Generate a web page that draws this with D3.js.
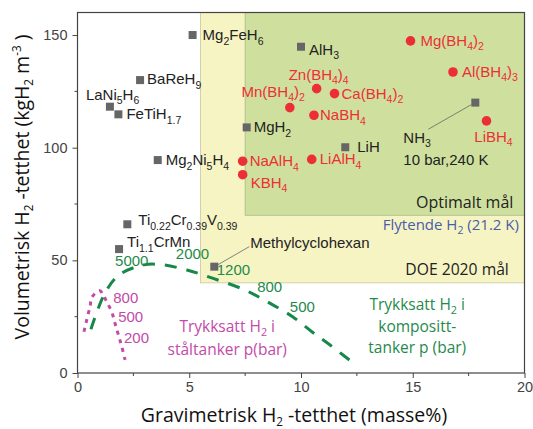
<!DOCTYPE html>
<html>
<head>
<meta charset="utf-8">
<script src="https://cdn.jsdelivr.net/npm/d3@7"></script>
<style>
  body { margin: 0; background: #fff; }
  text { font-family: "Liberation Sans", Arial, sans-serif; }
  .os { font-family: "Open Sans", "Noto Sans", sans-serif; }
</style>
</head>
<body>
<div id="chart"></div>
<script>
// --- data (x: masse%, y: kgH2 m-3) ---
const hydrideNames = ['Mg_{2}FeH_{6}', 'BaReH_{9}', 'LaNi_{5}H_{6}', 'FeTiH_{1.7}', 'Mg_{2}Ni_{5}H_{4}',
  'MgH_{2}', 'AlH_{3}', 'LiH', 'NH_{3}', 'Ti_{0.22}Cr_{0.39}V_{0.39}', 'Ti_{1.1}CrMn', 'Methylcyclohexan']
const hydrideX = [5.15, 2.8, 1.45, 1.83, 3.59, 7.57, 10.0, 11.98, 17.8, 2.23, 1.86, 6.12]
const hydrideY = [150, 130, 118.2, 114.8, 94.5, 109, 144.8, 100.2, 120, 66, 55, 47.2]

const complexNames = ['Mg(BH_{4})_{2}', 'Al(BH_{4})_{3}', 'Zn(BH_{4})_{4}', 'Ca(BH_{4})_{2}', 'Mn(BH_{4})_{2}',
  'NaBH_{4}', 'LiBH_{4}', 'NaAlH_{4}', 'LiAlH_{4}', 'KBH_{4}']
const complexX = [14.9, 16.8, 10.7, 11.5, 9.5, 10.58, 18.3, 7.39, 10.48, 7.39]
const complexY = [147.4, 133.6, 126.2, 124, 117.8, 114.4, 111.9, 94, 94.8, 88]

// trykksatt H2, komposittanker
const compositeX = [0.6, 1.23, 1.86, 2.98, 3.83, 4.9, 6.07, 7.5, 8.6, 9.64, 10.5, 11.3, 12.5]
const compositeY = [19.4, 35.5, 43.5, 48, 48, 45.7, 42, 36.8, 31, 24.9, 18.2, 12.4, 3.2]
const compositeP = ['5000', '2000', '1200', '800', '500']
const compositePX = [1.68, 4.4, 6.23, 8.04, 9.5]
const compositePY = [47.5, 50.6, 43.5, 36, 27.1]

// trykksatt H2, ståltanker
const steelX = [0.29, 0.41, 0.56, 0.65, 1.0, 1.15, 1.31, 1.53, 1.68, 1.83, 1.98, 2.13]
const steelY = [18.3, 23.5, 29.4, 33.7, 36.5, 34.6, 31.6, 27.2, 22, 16.9, 11.7, 5.8]
const steelP = ['800', '500', '200']
const steelPX = [1.6, 1.82, 2.08]
const steelPY = [31.1, 22.6, 13.3]

// targets
const doeTarget = [5.5, 40]
const optimalTarget = [7.5, 70]

const xTicks = [0, 5, 10, 15, 20]
const yTicks = [0, 50, 100, 150]

// label placement (px offset from the point, text-anchor)
const labelPos = {
  'Mg_{2}FeH_{6}': [10, 5, 'start'],
  'BaReH_{9}': [7, 4, 'start'],
  'LaNi_{5}H_{6}': [-24, -7, 'start'],
  'FeTiH_{1.7}': [8, 5, 'start'],
  'Mg_{2}Ni_{5}H_{4}': [8, 5, 'start'],
  'MgH_{2}': [7, 5, 'start'],
  'AlH_{3}': [8, 8, 'start'],
  'LiH': [12, 5, 'start'],
  'Ti_{0.22}Cr_{0.39}V_{0.39}': [11, 1, 'start'],
  'Ti_{1.1}CrMn': [8, -2, 'start'],
  'Methylcyclohexan': [36, -19, 'start'],
  'Mg(BH_{4})_{2}': [10, 5, 'start'],
  'Al(BH_{4})_{3}': [9, 5, 'start'],
  'Zn(BH_{4})_{4}': [2, -9, 'middle'],
  'Ca(BH_{4})_{2}': [7, 5, 'start'],
  'Mn(BH_{4})_{2}': [15, -11, 'end'],
  'NaBH_{4}': [6, 5, 'start'],
  'LiBH_{4}': [7, 21, 'middle'],
  'NaAlH_{4}': [7, 5, 'start'],
  'LiAlH_{4}': [8, 5, 'start'],
  'KBH_{4}': [8, 13, 'start']
}

const width = 533
const height = 429
const margin = { top: 12.5, right: 8.5, bottom: 56, left: 77.5 }

const svg = d3.select('#chart')
  .append('svg')
  .attr('width', width)
  .attr('height', height)

const x = d3.scaleLinear().domain([0, 20]).range([margin.left, width - margin.right])
const y = d3.scaleLinear().domain([0, 160]).range([height - margin.bottom, margin.top])

// write a label with _{sub} and ^{sup} parts
function rich (sel, str, sub = 0.7, down = 0.3) {
  const re = /([_^])\{([^}]*)\}|([^_^]+)/g
  let m
  let shift = 0
  const fs = parseFloat(sel.attr('font-size')) || 14
  while ((m = re.exec(str)) !== null) {
    let target = 0
    let txt = m[3]
    let size = null
    if (m[1] === '_') { target = fs * down; txt = m[2]; size = fs * sub }
    if (m[1] === '^') { target = -fs * 0.4; txt = m[2]; size = fs * sub }
    const t = sel.append('tspan').text(txt).attr('dy', target - shift)
    if (size) t.attr('font-size', size)
    shift = target
  }
}

// target regions
svg.append('rect')
  .attr('x', x(doeTarget[0]))
  .attr('y', y(160))
  .attr('width', x(20) - x(doeTarget[0]))
  .attr('height', y(doeTarget[1]) - y(160))
  .style('fill', '#f6f4c3')
  .style('stroke', '#c9c7a0')
  .style('stroke-width', 0.8)

svg.append('rect')
  .attr('x', x(optimalTarget[0]))
  .attr('y', y(160))
  .attr('width', x(20) - x(optimalTarget[0]))
  .attr('height', y(optimalTarget[1]) - y(160))
  .style('fill', '#cfe09e')
  .style('stroke', '#a9b98a')
  .style('stroke-width', 0.8)

// region texts
svg.append('text').attr('class', 'os')
  .attr('x', x(19.5)).attr('y', y(73.2))
  .attr('text-anchor', 'end').attr('font-size', 16).attr('fill', '#222')
  .text('Optimalt mål')

const fl = svg.append('text').attr('class', 'os')
  .attr('x', x(19.75)).attr('y', y(63.5))
  .attr('text-anchor', 'end').attr('font-size', 15).attr('fill', '#4a5cab')
rich(fl, 'Flytende H_{2} (21.2 K)')

svg.append('text').attr('class', 'os')
  .attr('x', x(19.3)).attr('y', y(43.5))
  .attr('text-anchor', 'end').attr('font-size', 15.7).attr('fill', '#222')
  .text('DOE 2020 mål')

// axes
const xAxis = d3.axisBottom(x).tickValues(xTicks).tickSize(5).tickPadding(4)
const yAxis = d3.axisLeft(y).tickValues(yTicks).tickSize(5).tickPadding(5)

const gx = svg.append('g')
  .attr('transform', `translate(0,${y(0)})`)
  .call(xAxis)
gx.selectAll('line').attr('stroke', '#444')
gx.append('g').selectAll('line')
  .data(d3.range(2.5, 20, 5))
  .enter().append('line')
  .attr('x1', d => x(d)).attr('x2', d => x(d))
  .attr('y1', 0).attr('y2', 3)
  .attr('stroke', '#444')

const gy = svg.append('g')
  .attr('transform', `translate(${x(0)},0)`)
  .call(yAxis)
gy.selectAll('line').attr('stroke', '#444')
gy.append('g').selectAll('line')
  .data([25, 75, 125])
  .enter().append('line')
  .attr('y1', d => y(d)).attr('y2', d => y(d))
  .attr('x1', 0).attr('x2', -3)
  .attr('stroke', '#444')

svg.selectAll('.domain').remove()
svg.selectAll('.tick text')
  .attr('font-family', '"Liberation Sans", Arial, sans-serif')
  .attr('font-size', 14.5)
  .attr('fill', '#444')

// frame
svg.append('rect')
  .attr('x', x(0)).attr('y', y(160))
  .attr('width', x(20) - x(0)).attr('height', y(0) - y(160))
  .style('fill', 'none')
  .style('stroke', '#444')
  .style('stroke-width', 1.2)

// axis titles
const xt = svg.append('text').attr('class', 'os')
  .attr('x', 294).attr('y', 422)
  .attr('text-anchor', 'middle').attr('font-size', 19.5).attr('fill', '#111')
rich(xt, 'Gravimetrisk H_{2} -tetthet (masse%)', 0.6, 0.2)

const yt = svg.append('text').attr('class', 'os')
  .attr('transform', 'translate(29,187) rotate(-90)')
  .attr('text-anchor', 'middle').attr('font-size', 19.5).attr('fill', '#111')
rich(yt, 'Volumetrisk H_{2} -tetthet (kgH_{2} m^{-3} )', 0.6, 0.2)

// pressure curves
const line = d3.line().x(d => x(d[0])).y(d => y(d[1])).curve(d3.curveCatmullRom)

svg.append('path')
  .datum(d3.zip(compositeX, compositeY))
  .attr('d', line)
  .style('fill', 'none')
  .style('stroke', '#16884a')
  .style('stroke-width', 3)
  .style('stroke-dasharray', '12 10')

svg.append('path')
  .datum(d3.zip(steelX, steelY))
  .attr('d', line)
  .style('fill', 'none')
  .style('stroke', '#c24aa9')
  .style('stroke-width', 3)
  .style('stroke-dasharray', '4 5')

svg.append('g').selectAll('text')
  .data(d3.zip(compositeP, compositePX, compositePY))
  .enter().append('text')
  .attr('x', d => x(d[1])).attr('y', d => y(d[2]))
  .attr('font-size', 15).attr('fill', '#1f8a4c')
  .text(d => d[0])

svg.append('g').selectAll('text')
  .data(d3.zip(steelP, steelPX, steelPY))
  .enter().append('text')
  .attr('x', d => x(d[1])).attr('y', d => y(d[2]))
  .attr('font-size', 15).attr('fill', '#c24aa9')
  .text(d => d[0])

// curve captions
const cc = ['Trykksatt H_{2} i', 'kompositt-', 'tanker p (bar)']
cc.forEach((s, i) => {
  const t = svg.append('text').attr('class', 'os')
    .attr('x', x(15.2)).attr('y', y(28) + i * 21.7)
    .attr('text-anchor', 'middle').attr('font-size', 15.5).attr('fill', '#1f8a4c')
  rich(t, s, 0.7, 0.25)
})
const sc = ['Trykksatt H_{2} i', 'ståltanker p(bar)']
sc.forEach((s, i) => {
  const t = svg.append('text').attr('class', 'os')
    .attr('x', x(6.7)).attr('y', y(18.3) + i * 23)
    .attr('text-anchor', 'middle').attr('font-size', 15.5).attr('fill', '#c24aa9')
  rich(t, s, 0.7, 0.25)
})

// leader lines
const iNH3 = hydrideNames.indexOf('NH_{3}')
const iMch = hydrideNames.indexOf('Methylcyclohexan')
svg.append('line')
  .attr('x1', x(hydrideX[iNH3]) - 4).attr('y1', y(hydrideY[iNH3]) + 2)
  .attr('x2', x(hydrideX[iNH3]) - 47).attr('y2', y(hydrideY[iNH3]) + 26.6)
  .style('stroke', '#666').style('stroke-width', 0.8)
svg.append('line')
  .attr('x1', x(hydrideX[iMch]) + 2).attr('y1', y(hydrideY[iMch]) - 1)
  .attr('x2', x(hydrideX[iMch]) + 35).attr('y2', y(hydrideY[iMch]) - 20)
  .style('stroke', '#666').style('stroke-width', 0.8)

// hydrides: grey squares
const hyd = d3.zip(hydrideNames, hydrideX, hydrideY)
svg.append('g').selectAll('rect')
  .data(hyd)
  .enter().append('rect')
  .attr('x', d => x(d[1]) - 4)
  .attr('y', d => y(d[2]) - 4)
  .attr('width', 8).attr('height', 8)
  .style('fill', '#666')

hyd.filter(d => d[0] !== 'NH_{3}').forEach(d => {
  const p = labelPos[d[0]]
  const t = svg.append('text')
    .attr('x', x(d[1]) + p[0]).attr('y', y(d[2]) + p[1])
    .attr('text-anchor', p[2]).attr('font-size', 15).attr('fill', '#222')
  rich(t, d[0])
})

const nh = svg.append('text')
  .attr('x', x(hydrideX[iNH3]) - 72).attr('y', y(hydrideY[iNH3]) + 40)
  .attr('font-size', 15).attr('fill', '#222')
rich(nh, 'NH_{3}')
svg.append('text')
  .attr('x', x(hydrideX[iNH3]) - 72).attr('y', y(hydrideY[iNH3]) + 62)
  .attr('font-size', 15).attr('fill', '#222')
  .text('10 bar,240 K')

// complex hydrides: red circles
const cpx = d3.zip(complexNames, complexX, complexY)
svg.append('g').selectAll('circle')
  .data(cpx)
  .enter().append('circle')
  .attr('cx', d => x(d[1]))
  .attr('cy', d => y(d[2]))
  .attr('r', 4.8)
  .style('fill', '#ec2f36')

cpx.forEach(d => {
  const p = labelPos[d[0]]
  const t = svg.append('text')
    .attr('x', x(d[1]) + p[0]).attr('y', y(d[2]) + p[1])
    .attr('text-anchor', p[2]).attr('font-size', 15).attr('fill', '#ec2f36')
  rich(t, d[0])
})
</script>
</body>
</html>
